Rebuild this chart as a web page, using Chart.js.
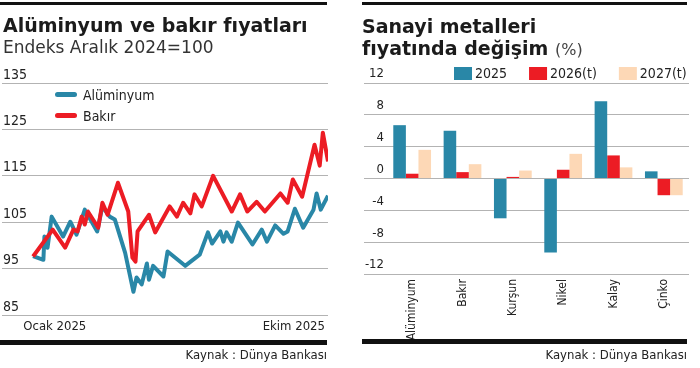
<!DOCTYPE html>
<html>
<head>
<meta charset="utf-8">
<script src="https://cdn.jsdelivr.net/npm/chart.js@4.4.1/dist/chart.umd.min.js"></script>
<style>
  body { margin: 0; width: 700px; height: 368px; background: #fff; position: relative; overflow: hidden; font-family: "DejaVu Sans", sans-serif; color: #1a1a1a; }
  canvas { position: absolute; top: 0; }
  .rule { position: absolute; background: #111; }
  .title { position: absolute; font-weight: bold; font-size: 19px; line-height: 22px; white-space: nowrap; color: #1b1b1b; }
  .title span { font-weight: normal; font-size: 16px; color: #444; }
  .sub { position: absolute; font-size: 17px; line-height: 20px; color: #333; white-space: nowrap; }
  .source { position: absolute; font-family: "DejaVu Sans Condensed", "DejaVu Sans"; font-size: 13px; line-height: 16px; color: #222; white-space: nowrap; }
</style>
</head>
<body>
<div class="rule" style="left:0;top:2px;width:327px;height:3px"></div>
<div class="rule" style="left:362px;top:2px;width:325px;height:3px"></div>

<canvas id="lineChart" width="335" height="340" style="left:0"></canvas>
<canvas id="barChart" width="345" height="368" style="left:355px"></canvas>

<div class="title" style="left:3px;top:14px">Alüminyum ve bakır fıyatları</div>
<div class="sub" style="left:3px;top:37px">Endeks Aralık 2024=100</div>
<div class="title" style="left:362px;top:15px">Sanayi metalleri<br>fıyatında değişim <span>(%)</span></div>

<div class="rule" style="left:0;top:340px;width:327px;height:5px"></div>
<div class="rule" style="left:362px;top:339px;width:325px;height:5px;"></div>
<div class="source" style="right:373px;top:347px;background:#fff">Kaynak : Dünya Bankası</div>
<div class="source" style="right:13px;top:347px;background:#fff">Kaynak : Dünya Bankası</div>

<script>
// days since start of January 2025
const alumDays = [0, 10, 11, 14, 18, 29, 36, 42, 50, 62, 67, 74, 79, 89, 97, 100, 105, 110, 112, 116, 126, 130, 147, 161, 169, 173, 181, 184, 187, 192, 198, 212, 221, 226, 234, 242, 246, 253, 261, 271, 274, 278, 285];
const alumValues = [97.7, 96.9, 101.9, 99.5, 106.2, 101.9, 105.1, 102.3, 107.7, 103.0, 108.4, 106.2, 105.6, 98.4, 90.0, 93.1, 91.6, 96.1, 92.6, 95.6, 93.3, 98.7, 95.6, 98.0, 102.8, 100.4, 103.0, 100.8, 102.8, 100.8, 104.9, 100.2, 103.4, 100.8, 104.3, 102.5, 103.0, 107.9, 103.8, 107.7, 111.2, 107.7, 110.7];
const copperDays = [0, 19, 31, 39, 43, 47, 50, 53, 63, 67, 72, 82, 92, 96, 99, 101, 112, 118, 132, 139, 145, 152, 156, 163, 174, 192, 200, 207, 216, 224, 239, 246, 251, 260, 272, 277, 280, 285];
const copperValues = [97.6, 103.4, 99.5, 103.4, 103.0, 106.2, 104.5, 107.3, 103.8, 109.2, 106.6, 113.5, 107.3, 97.4, 96.5, 103.0, 106.6, 102.8, 108.4, 106.2, 109.2, 106.9, 111.0, 108.4, 115.0, 107.3, 111.0, 107.3, 109.4, 107.3, 111.2, 109.2, 114.2, 110.5, 121.7, 117.2, 124.3, 118.1];
const lineTickDays = [21, 252];
const lineTickLabels = ["Ocak 2025", "Ekim 2025"];

const metals = ["Alüminyum", "Bakır", "Kurşun", "Nikel", "Kalay", "Çinko"];
const change2025 = [6.7, 6.0, -5.0, -9.3, 9.7, 0.9];
const change2026 = [0.6, 0.8, 0.2, 1.1, 2.9, -2.1];
const change2027 = [3.6, 1.8, 1.0, 3.1, 1.4, -2.1];

const BLUE = "#2987a7";
const RED = "#ec1c24";
const PEACH = "#fdd8b6";
const GRID = "#b3b3b3";
const CONDENSED = "'DejaVu Sans Condensed', 'DejaVu Sans', sans-serif";

Chart.defaults.font.family = CONDENSED;
Chart.defaults.color = "#222";

// legend drawn at a fixed spot, from the dataset labels and colours
const placedLegend = {
  id: "placedLegend",
  afterDraw(chart, args, o) {
    const ctx = chart.ctx;
    ctx.save();
    ctx.font = o.font;
    ctx.textBaseline = "middle";
    let x = o.x;
    let y = o.y;
    chart.data.datasets.forEach((ds) => {
      if (o.line) {
        ctx.strokeStyle = ds.borderColor;
        ctx.lineWidth = 5;
        ctx.lineCap = "round";
        ctx.beginPath();
        ctx.moveTo(x + 2.5, y);
        ctx.lineTo(x + o.boxWidth - 2.5, y);
        ctx.stroke();
      } else {
        ctx.fillStyle = ds.backgroundColor;
        ctx.fillRect(x, y - o.boxHeight / 2, o.boxWidth, o.boxHeight);
      }
      ctx.fillStyle = o.color;
      ctx.fillText(ds.label, x + o.boxWidth + o.gap, y + o.textShift);
      const w = ctx.measureText(ds.label).width;
      if (o.vertical) y += o.step;
      else x += o.boxWidth + o.gap + w + o.step;
    });
    ctx.restore();
  },
};

const toPoints = (days, values) => days.map((d, i) => ({ x: d, y: values[i] }));

new Chart(document.getElementById("lineChart").getContext("2d"), {
  type: "line",
  data: {
    datasets: [
      {
        label: "Alüminyum",
        data: toPoints(alumDays, alumValues),
        borderColor: BLUE,
        borderWidth: 4,
        borderJoinStyle: "round",
        pointRadius: 0,
        tension: 0,
        order: 1,
      },
      {
        label: "Bakır",
        data: toPoints(copperDays, copperValues),
        borderColor: RED,
        borderWidth: 4,
        borderJoinStyle: "round",
        pointRadius: 0,
        tension: 0,
        order: 0,
      },
    ],
  },
  options: {
    responsive: false,
    animation: false,
    layout: { autoPadding: false, padding: { left: 2, right: 7, top: 83, bottom: 0 } },
    plugins: {
      legend: { display: false },
      tooltip: { enabled: false },
      placedLegend: {
        vertical: true,
        line: true,
        x: 55,
        y: 94.5,
        step: 21,
        boxWidth: 22,
        gap: 6,
        textShift: 1.5,
        font: "14px " + CONDENSED,
        color: "#222",
      },
    },
    scales: {
      x: {
        type: "linear",
        min: -30,
        max: 285,
        grid: { display: false, drawTicks: false },
        border: { display: false },
        afterBuildTicks: (s) => {
          s.ticks = lineTickDays.map((v) => ({ value: v }));
        },
        afterFit: (s) => {
          s.height = 25;
        },
        ticks: {
          autoSkip: false,
          maxRotation: 0,
          padding: 4,
          font: { size: 13 },
          callback: (v, i) => lineTickLabels[i],
        },
      },
      y: {
        min: 85,
        max: 135,
        afterFit: (s) => {
          s.width = 0;
        },
        grid: { color: GRID, drawTicks: false },
        border: { display: false },
        ticks: {
          stepSize: 10,
          mirror: true,
          padding: 1,
          labelOffset: -8,
          font: { size: 14 },
        },
      },
    },
  },
  plugins: [placedLegend],
});

new Chart(document.getElementById("barChart").getContext("2d"), {
  type: "bar",
  data: {
    labels: metals,
    datasets: [
      { label: "2025", data: change2025, backgroundColor: BLUE },
      { label: "2026(t)", data: change2026, backgroundColor: RED },
      { label: "2027(t)", data: change2027, backgroundColor: PEACH },
    ],
  },
  options: {
    responsive: false,
    animation: false,
    layout: { autoPadding: false, padding: { left: 0, right: 11, top: 83, bottom: 28 } },
    datasets: { bar: { categoryPercentage: 0.75, barPercentage: 1 } },
    plugins: {
      legend: { display: false },
      tooltip: { enabled: false },
      placedLegend: {
        vertical: false,
        line: false,
        x: 99,
        y: 73.5,
        step: 22,
        boxWidth: 18,
        boxHeight: 13,
        gap: 3,
        textShift: 0.5,
        font: "14px " + CONDENSED,
        color: "#222",
      },
    },
    scales: {
      x: {
        grid: { display: false, drawTicks: false },
        border: { display: false },
        afterFit: (s) => {
          s.height = 66;
        },
        ticks: {
          minRotation: 90,
          maxRotation: 90,
          autoSkip: false,
          padding: 5,
          font: { size: 12 },
        },
      },
      y: {
        min: -12,
        max: 12,
        afterFit: (s) => {
          s.width = 32;
        },
        grid: { color: GRID, drawTicks: true, tickLength: 23 },
        border: { display: false },
        ticks: {
          stepSize: 4,
          padding: -20,
          labelOffset: -9,
          font: { size: 13 },
        },
      },
    },
  },
  plugins: [placedLegend],
});
</script>
</body>
</html>
